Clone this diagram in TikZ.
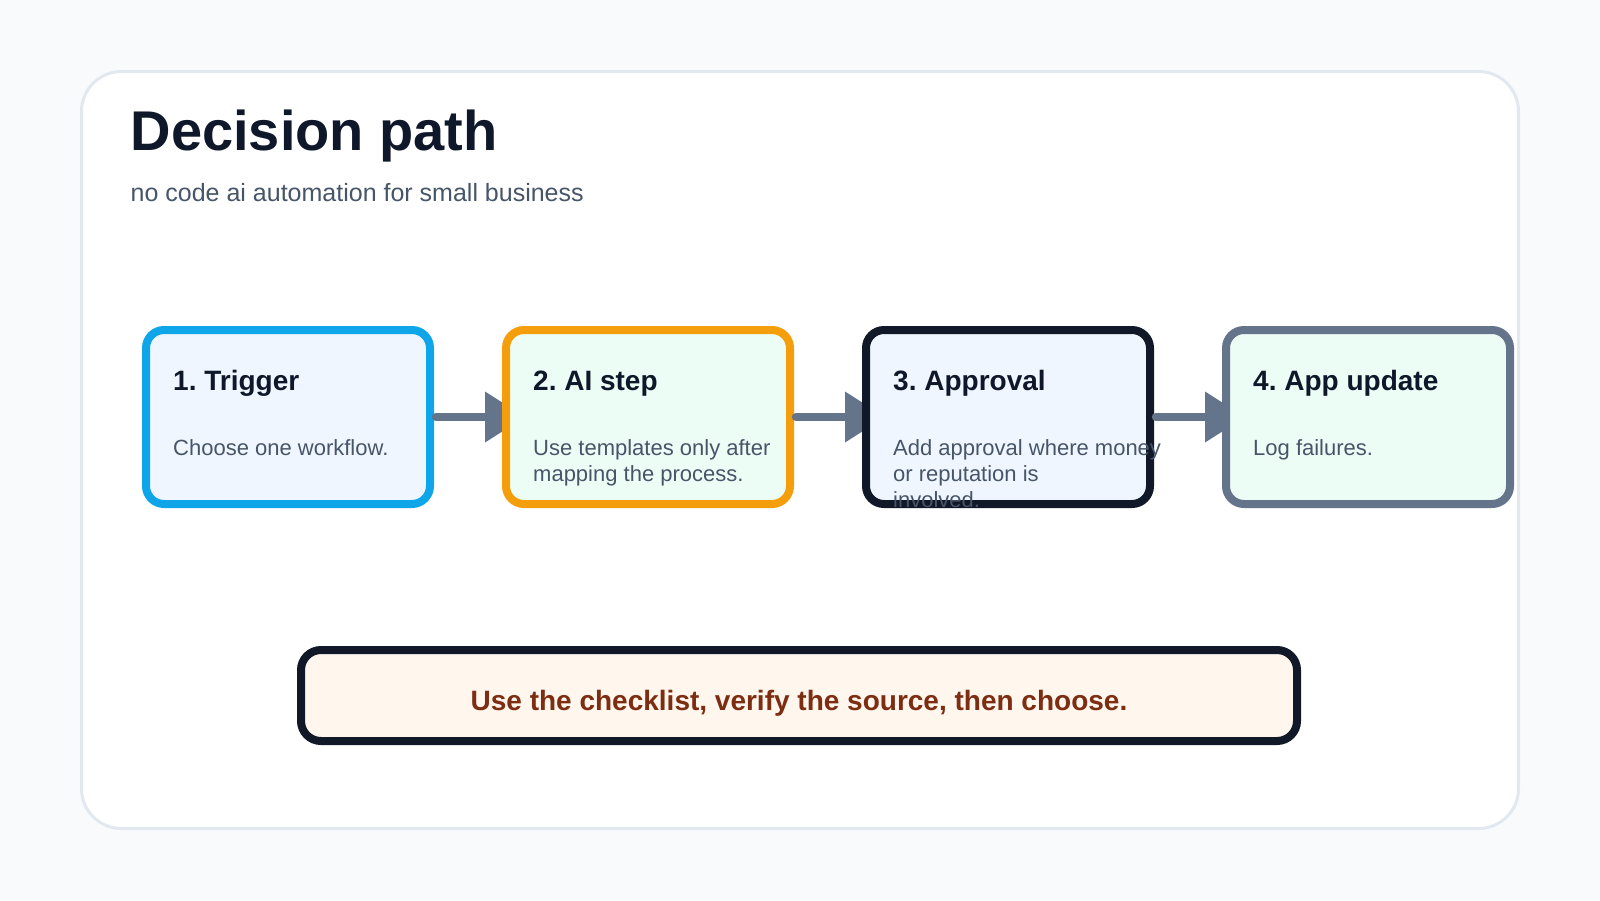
\documentclass[tikz,border=0pt]{standalone}
\usepackage{fontspec}
\setmainfont{Liberation Sans}
\frenchspacing
\definecolor{pagebg}{HTML}{F8FAFC}
\definecolor{cardline}{HTML}{E2E8F0}
\definecolor{ink}{HTML}{0F172A}
\definecolor{muted}{HTML}{475569}
\definecolor{skyline}{HTML}{0EA5E9}
\definecolor{amberline}{HTML}{F59E0B}
\definecolor{slateline}{HTML}{64748B}
\definecolor{darkline}{HTML}{111827}
\definecolor{bluefill}{HTML}{EFF6FF}
\definecolor{greenfill}{HTML}{ECFDF5}
\definecolor{creamfill}{HTML}{FFF7ED}
\definecolor{notetext}{HTML}{7C2D12}
\pgfdeclarelayer{bgl}
\pgfdeclarelayer{arrl}
\pgfsetlayers{bgl,arrl,main}
\begin{document}
\begin{tikzpicture}[x=1pt,y=-1pt,
  stepbox/.style={draw, line width=8pt, rounded corners=18pt,
    minimum width=284pt, minimum height=174pt, inner sep=0pt,
    outer sep=0pt, anchor=north west},
  steptitle/.style={anchor=base west, inner sep=0pt, text=ink,
    font=\fontsize{28}{33.6}\selectfont\bfseries},
  stepbody/.style={anchor=base west, inner sep=0pt, text=muted, align=left,
    font=\fontsize{22}{26.4}\selectfont},
  connline/.style={draw=slateline, line width=8.5pt, line cap=round},
  connhead/.style={fill=slateline},
  notebox/.style={draw=darkline, fill=creamfill, line width=8pt,
    rounded corners=20pt, minimum width=996pt, minimum height=91pt,
    inner sep=0pt, outer sep=0pt}
]
\useasboundingbox (0,0) rectangle (1600,900);
\begin{pgfonlayer}{bgl}
  \fill[pagebg] (0,0) rectangle (1600,900);
  \draw[cardline, line width=3pt, fill=white, rounded corners=40pt]
    (81.5,71.5) rectangle (1518.5,828.5);
\end{pgfonlayer}

\node[anchor=base west, inner sep=0pt, text=ink,
  font=\fontsize{56}{67}\selectfont\bfseries] (title) at (130.5,150) {Decision path};
\node[anchor=base west, inner sep=0pt, text=muted,
  font=\fontsize{25}{30}\selectfont] (subtitle) at (130.5,201)
  {no code ai automation for small business};

% boxes
\node[stepbox, draw=skyline, fill=bluefill] (b1) at (146,330) {};
\node[stepbox, draw=amberline, fill=greenfill] (b2) at (506,330) {};
\node[stepbox, draw=darkline, fill=bluefill] (b3) at (866,330) {};
\node[stepbox, draw=slateline, fill=greenfill] (b4) at (1226,330) {};

% connectors: heads under the boxes, shafts above
\begin{pgfonlayer}{arrl}
  \foreach \a/\b in {b1/b2, b2/b3, b3/b4}{
    \path[connhead] ([xshift=-21pt,yshift=25.5pt]\b.west)
      -- ([xshift=19pt]\b.west)
      -- ([xshift=-21pt,yshift=-25.5pt]\b.west) -- cycle;
  }
\end{pgfonlayer}
\foreach \a/\b in {b1/b2, b2/b3, b3/b4}{
  \draw[connline] ([xshift=6pt]\a.east) -- ([xshift=-19pt]\b.west);
}

% texts (base anchor of a multi-line text is its last line)
\node[steptitle] (t1) at (173,390) {1. Trigger};
\node[stepbody] (d1) at (173,455) {Choose one workflow.};
\node[steptitle] (t2) at (533,390) {2. AI step};
\node[stepbody] (d2) at (533,481.4) {Use templates only after\\mapping the process.};
\node[steptitle] (t3) at (893,390) {3. Approval};
\node[stepbody] (d3) at (893,507.8) {Add approval where money\\or reputation is\\involved.};
\node[steptitle] (t4) at (1253,390) {4. App update};
\node[stepbody] (d4) at (1253,455) {Log failures.};

% note
\node[notebox] (note) at (799,695.5) {};
\node[anchor=base, inner sep=0pt, text=notetext,
  font=\fontsize{28}{33.6}\selectfont\bfseries] (notetxt) at (799,710)
  {Use the checklist, verify the source, then choose.};
\end{tikzpicture}
\end{document}
